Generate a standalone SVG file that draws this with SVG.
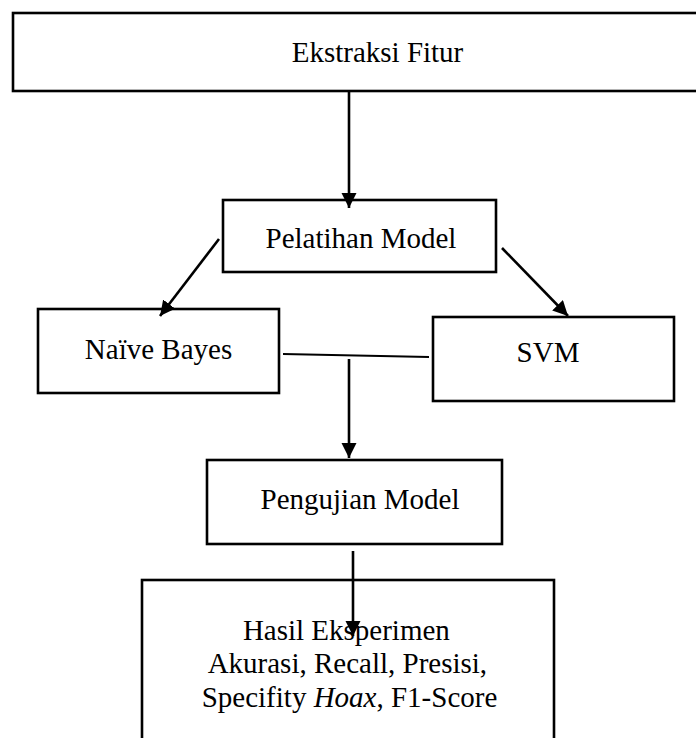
<svg xmlns="http://www.w3.org/2000/svg" width="696" height="738" viewBox="0 0 696 738">
  <defs>
    <marker id="arrow" markerUnits="userSpaceOnUse" markerWidth="16" markerHeight="16" refX="15" refY="7.5" orient="auto">
      <path d="M0,0 L15,7.5 L0,15 Z" fill="#000"/>
    </marker>
    <style>
      .box { fill: #fff; stroke: #000; stroke-width: 2.6; }
      .lbl { font-family: "Liberation Serif", "Times New Roman", serif; font-size: 29px; fill: #000; }
      .conn { stroke: #000; stroke-width: 2.6; fill: none; }
      .arr { marker-end: url(#arrow); }
    </style>
  </defs>
  <rect width="696" height="738" fill="#fff"/>

  <g id="node-ekstraksi">
    <rect class="box" x="13" y="13" width="700" height="78"/>
    <text class="lbl" x="377.5" y="62" text-anchor="middle">Ekstraksi Fitur</text>
  </g>

  <g id="node-pelatihan">
    <rect class="box" x="223" y="200" width="273" height="72"/>
    <text class="lbl" x="361" y="248" text-anchor="middle">Pelatihan Model</text>
  </g>

  <g id="node-naivebayes">
    <rect class="box" x="38" y="309" width="241" height="84"/>
    <text class="lbl" x="158.5" y="359" text-anchor="middle">Naïve Bayes</text>
  </g>

  <g id="node-svm">
    <rect class="box" x="433" y="317" width="241" height="84"/>
    <text class="lbl" x="548" y="362" text-anchor="middle">SVM</text>
  </g>

  <g id="node-pengujian">
    <rect class="box" x="207" y="460" width="295" height="84"/>
    <text class="lbl" x="360" y="509" text-anchor="middle">Pengujian Model</text>
  </g>

  <g id="node-hasil">
    <rect class="box" x="142" y="580" width="412" height="180"/>
    <text class="lbl" text-anchor="middle">
      <tspan x="350" y="640">Hasil Eksperimen</tspan>
      <tspan x="351" y="673">Akurasi, Recall, Presisi,</tspan>
      <tspan x="349.5" y="707">Specifity <tspan font-style="italic">Hoax</tspan>, F1-Score</tspan>
    </text>
  </g>

  <g id="connectors">
    <line class="conn arr" x1="349" y1="92" x2="349" y2="208"/>
    <line class="conn arr" x1="219" y1="239" x2="160" y2="316"/>
    <line class="conn arr" x1="502" y1="248" x2="568" y2="316"/>
    <line class="conn" x1="283" y1="354" x2="429" y2="357" style="stroke-width:1.8"/>
    <line class="conn arr" x1="349" y1="359" x2="349" y2="458"/>
    <line class="conn arr" x1="353" y1="551" x2="353" y2="636"/>
  </g>
</svg>
